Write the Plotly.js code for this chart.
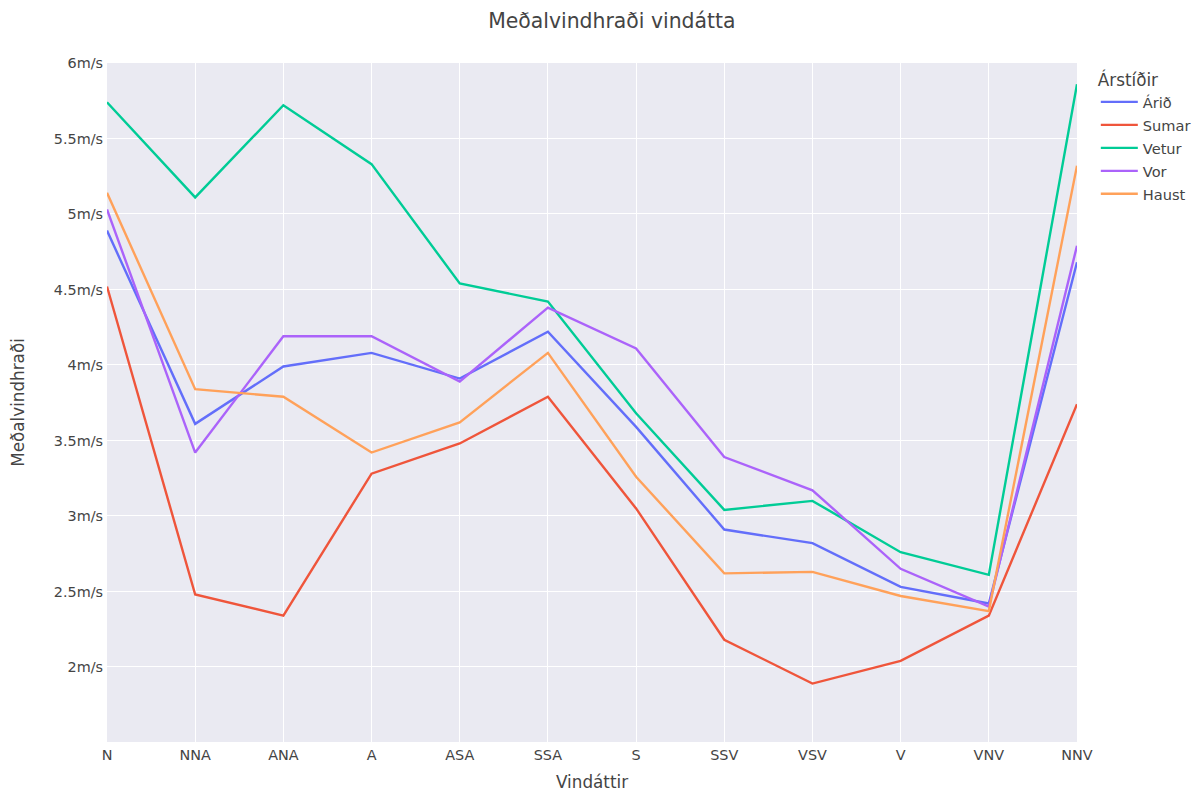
<!DOCTYPE html>
<html>
<head>
<meta charset="utf-8">
<script src="https://cdn.plot.ly/plotly-3.0.1.min.js"></script>
<style>html,body{margin:0;padding:0;}#chart{width:1195px;height:791px;}</style>
</head>
<body>
<div id="chart"></div>
<script>
const categories = ["N","NNA","ANA","A","ASA","SSA","S","SSV","VSV","V","VNV","NNV"];
const arid   = [4.89,3.61,3.99,4.08,3.91,4.22,3.59,2.91,2.82,2.53,2.42,4.68];
const sumar  = [4.52,2.48,2.34,3.28,3.48,3.79,3.05,2.18,1.89,2.04,2.34,3.74];
const vetur  = [5.74,5.11,5.72,5.33,4.54,4.42,3.68,3.04,3.10,2.76,2.61,5.86];
const vor    = [5.03,3.42,4.19,4.19,3.89,4.38,4.11,3.39,3.17,2.65,2.40,4.79];
const haust  = [5.14,3.84,3.79,3.42,3.62,4.08,3.26,2.62,2.63,2.47,2.37,5.32];
const seriesNames = ["Árið","Sumar","Vetur","Vor","Haust"];
const seriesData = [arid,sumar,vetur,vor,haust];
const colors = ["#636efa","#EF553B","#00cc96","#ab63fa","#FFA15A"];
const xTitle = "Vindáttir";
const yTitle = "Meðalvindhraði";

const traces = seriesData.map((d,i)=>({
  type:"scatter", mode:"lines", name:seriesNames[i], x:categories, y:d,
  legendgroup:"g"+i,
  line:{color:colors[i], width:2.4}
}));

const FONT = '"DejaVu Sans", Verdana, sans-serif';
const layout = {
  width:1195, height:791,
  paper_bgcolor:"#ffffff", plot_bgcolor:"rgb(234,234,242)",
  font:{family:FONT, size:14.4, color:"rgb(68,68,68)"},
  title:{text:"Meðalvindhraði vindátta", x:0.512, xanchor:"center", y:0.974, yanchor:"middle", font:{size:20.4}},
  margin:{l:107, r:118, t:63, b:49},
  xaxis:{gridcolor:"white", gridwidth:1.2, linecolor:"white", ticks:"", zeroline:false, automargin:false, range:[0,11]},
  yaxis:{title:{text:yTitle, font:{size:16.8}, standoff:24}, gridcolor:"white", gridwidth:1.2, linecolor:"white", ticks:"", ticksuffix:"m/s", range:[1.503,6], dtick:0.5, zeroline:false, automargin:false},
  legend:{title:{text:"Árstíðir", font:{size:16.8}}, font:{size:14.6}, traceorder:"grouped", tracegroupgap:1, itemwidth:37,
          xref:"container", yref:"container", x:0.917, xanchor:"left", y:0.919, yanchor:"top"},
  annotations:[{text:xTitle, xref:"paper", yref:"paper", x:0.5, y:-0.0595, xanchor:"center", yanchor:"middle", showarrow:false, font:{size:16.8}}],
  hovermode:"closest"
};
Plotly.newPlot("chart", traces, layout, {displayModeBar:false});
</script>
</body>
</html>
